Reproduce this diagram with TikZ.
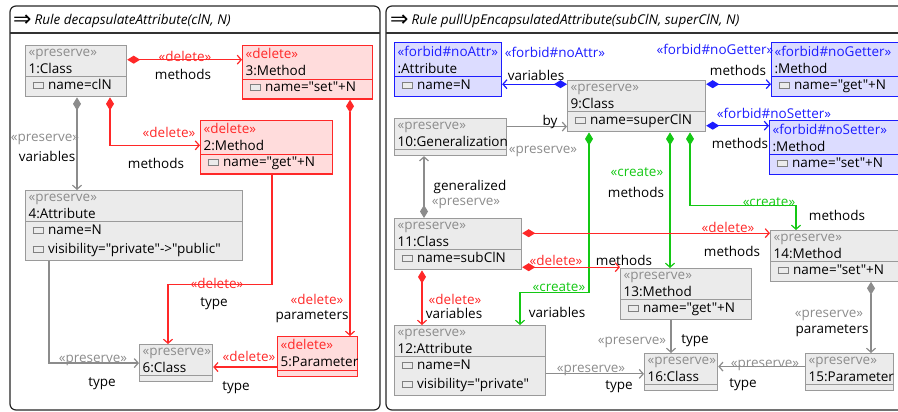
\documentclass[tikz,border=0pt]{standalone}
\usepackage{fontspec}
\setmainfont{Open Sans}[Ligatures=TeXOff]
\newfontfamily\symfont{DejaVu Sans}
\usetikzlibrary{arrows.meta, shapes.multipart}
\definecolor{pgray}{HTML}{8C8C8C}
\definecolor{boxgray}{HTML}{EBEBEB}
\definecolor{lgray}{HTML}{9A9A9A}
\definecolor{dred}{HTML}{FF2828}
\definecolor{redfill}{HTML}{FFDCDC}
\definecolor{fblue}{HTML}{1C1CFF}
\definecolor{bluefill}{HTML}{DCDCFF}
\definecolor{cgreen}{HTML}{14C814}
\newcommand{\attricon}{\raisebox{1.5pt}{\setlength{\fboxsep}{0pt}\setlength{\fboxrule}{1pt}\fcolorbox{gray}{boxgray}{\rule{0pt}{5pt}\rule{9pt}{0pt}}}}
\newcommand{\attrline}[1]{\rule[-4pt]{0pt}{12.5pt}\hspace*{4pt}\attricon\ #1}
\newcommand{\rulearrow}{\raisebox{-2pt}{\symfont\fontsize{22}{22}\selectfont ⇒}}
\tikzset{
  % rule frames
  frame/.style={draw=black!85, line width=1.2pt, rounded corners=6pt},
  titleline/.style={draw=black!80, line width=1.8pt},
  ruletitle/.style={anchor=base west, inner sep=0pt, font=\fontsize{13.5}{16}\selectfont},
  % class boxes
  umlbox/.style={rectangle split, rectangle split parts=2, draw=lgray, fill=boxgray, line width=1.2pt,
    anchor=north west, align=left, inner xsep=3pt, inner ysep=2.5pt,
    rectangle split empty part height=8pt, font=\fontsize{13.5}{17}\selectfont},
  delbox/.style={umlbox, draw=dred, fill=redfill},
  forbox/.style={umlbox, draw=fblue, fill=bluefill},
  % connectors
  con/.style={line width=1.2pt, -{Straight Barb[length=4pt,width=9pt]}},
  comp/.style={con, {Diamond[length=13pt,width=8pt]}-{Straight Barb[length=4pt,width=9pt]}},
  pres-con/.style={draw=pgray},
  del-con/.style={draw=dred},
  for-con/.style={draw=fblue},
  cre-con/.style={draw=cgreen},
  % edge labels
  lbl/.style={inner sep=0pt, font=\fontsize{13.5}{16}\selectfont},
  plbl/.style={lbl, text=pgray},
  dlbl/.style={lbl, text=dred},
  flbl/.style={lbl, text=fblue},
  clbl/.style={lbl, text=cgreen}
}
\begin{document}
\begin{tikzpicture}[x=1pt, y=-1pt]
  \useasboundingbox (0,0) rectangle (898,412);
  % --- Frames ---
  \draw[frame] (10,6) rectangle (380,410);
  \draw[frame] (386,6) rectangle (912,410);
  \draw[titleline] (10,33) -- (380,33);
  \draw[titleline] (386,33) -- (912,33);
  \node[ruletitle] (t1) at (13,25) {\rulearrow\hspace{3pt}\textit{Rule decapsulateAttribute(clN, N)}};
  \node[ruletitle] (t2) at (390,25) {\rulearrow\hspace{3pt}\textit{Rule pullUpEncapsulatedAttribute(subClN, superClN, N)}};

  % --- Left rule: boxes ---
  \node[umlbox, text width=95pt] (c1) at (25,45)
    {{\color{pgray}«preserve»}\\1:Class \nodepart{two}\attrline{name=clN}};
  \node[delbox, text width=124pt] (c3) at (242,45)
    {{\color{dred}«delete»}\\3:Method \nodepart{two}\attrline{name="set"+N}};
  \node[delbox, text width=126pt] (c2) at (200,120)
    {{\color{dred}«delete»}\\2:Method \nodepart{two}\attrline{name="get"+N}};
  \node[umlbox, text width=211pt] (c4) at (25,190)
    {{\color{pgray}«preserve»}\\4:Attribute \nodepart{two}\attrline{name=N}\\[2pt]\attrline{visibility="private"->"public"}};
  \node[umlbox, text width=67pt] (c6) at (139,344)
    {{\color{pgray}«preserve»}\\6:Class \nodepart{two}};
  \node[delbox, text width=74pt] (c5) at (277,336)
    {{\color{dred}«delete»}\\5:Parameter \nodepart{two}};

  % --- Left rule: connectors ---
  \draw[comp, del-con] ([yshift=11.5pt]c1.east) -- ([yshift=11.5pt]c1.east -| c3.west);
  \draw[comp, del-con] ([xshift=85pt]c1.south west) |- ([yshift=2pt]c2.west);
  \draw[comp, pres-con] ([xshift=52pt]c1.south west) -- ([xshift=52pt]c4.north west);
  \draw[comp, del-con] ([xshift=108pt]c3.south west) -- ([xshift=108pt]c3.south west |- c5.north);
  \draw[con, del-con] ([xshift=72pt]c2.south west) -- ++(0,110) -| ([xshift=29pt]c6.north west);
  \draw[con, pres-con] ([xshift=24pt]c4.south west) |- (c6.west);
  \draw[con, del-con] ([yshift=-10.5pt]c5.west) -- ([yshift=-10.5pt]c5.west -| c6.east);

  % --- Left rule: labels ---
  \node[dlbl] (l13s) at (185,56) {«delete»};
  \node[lbl] (l13r) at (183,74) {methods};
  \node[dlbl] (l12s) at (169,132) {«delete»};
  \node[lbl] (l12r) at (156,163) {methods};
  \node[plbl] (l14s) at (45,139) {«preserve»};
  \node[lbl] (l14r) at (47,156) {variables};
  \node[dlbl] (l35s) at (317,299) {«delete»};
  \node[lbl] (l35r) at (312,317) {parameters};
  \node[dlbl] (l26s) at (217,283) {«delete»};
  \node[lbl] (l26r) at (214,304) {type};
  \node[plbl] (l46s) at (93,360) {«preserve»};
  \node[lbl] (l46r) at (102,384) {type};
  \node[dlbl] (l56s) at (249,356) {«delete»};
  \node[lbl] (l56r) at (236,388) {type};

  % --- Right rule: boxes ---
  \node[forbox, text width=101pt] (fa) at (394,42)
    {{\color{fblue}«forbid\#noAttr»}\\:Attribute \nodepart{two}\attrline{name=N}};
  \node[umlbox, text width=132pt] (c9) at (567,80)
    {{\color{pgray}«preserve»}\\9:Class \nodepart{two}\attrline{name=superClN}};
  \node[forbox, text width=124pt] (fg) at (771,42)
    {{\color{fblue}«forbid\#noGetter»}\\:Method \nodepart{two}\attrline{name="get"+N}};
  \node[forbox, text width=124pt] (fs) at (769,120)
    {{\color{fblue}«forbid\#noSetter»}\\:Method \nodepart{two}\attrline{name="set"+N}};
  \node[umlbox, text width=106pt] (c10) at (394,118)
    {{\color{pgray}«preserve»}\\10:Generalization \nodepart{two}};
  \node[umlbox, text width=121pt] (c11) at (394,218)
    {{\color{pgray}«preserve»}\\11:Class \nodepart{two}\attrline{name=subClN}};
  \node[umlbox, text width=125pt] (c13) at (620,268)
    {{\color{pgray}«preserve»}\\13:Method \nodepart{two}\attrline{name="get"+N}};
  \node[umlbox, text width=122pt] (c14) at (770,230)
    {{\color{pgray}«preserve»}\\14:Method \nodepart{two}\attrline{name="set"+N}};
  \node[umlbox, text width=145pt] (c12) at (394,325)
    {{\color{pgray}«preserve»}\\12:Attribute \nodepart{two}\attrline{name=N}\\[2pt]\attrline{visibility="private"}};
  \node[umlbox, text width=67pt] (c16) at (644,353)
    {{\color{pgray}«preserve»}\\16:Class \nodepart{two}};
  \node[umlbox, text width=82pt] (c15) at (805,353)
    {{\color{pgray}«preserve»}\\15:Parameter \nodepart{two}};

  % --- Right rule: connectors ---
  \draw[comp, for-con] ([yshift=22pt]c9.west) -- ([yshift=22pt]c9.west -| fa.east);
  \draw[comp, for-con] ([yshift=22pt]c9.east) -- ([yshift=22pt]c9.east -| fg.west);
  \draw[comp, for-con] ([yshift=-19.5pt]c9.east) -- ([yshift=-19.5pt]c9.east -| fs.west);
  \draw[con, pres-con] ([yshift=10.5pt]c10.east) -- ([yshift=10.5pt]c10.east -| c9.west);
  \draw[comp, pres-con] ([xshift=30pt]c11.north west) -- ([xshift=30pt]c10.south west);
  \draw[comp, cre-con] ([xshift=22pt]c9.south west) -- ++(0,160) -| ([xshift=126pt]c12.north west);
  \draw[comp, cre-con] ([xshift=103pt]c9.south west) -- ([xshift=103pt]c9.south west |- c13.north);
  \draw[comp, cre-con] ([xshift=123pt]c9.south west) -- ++(0,73) -| ([xshift=26pt]c14.north west);
  \draw[comp, del-con] ([yshift=11pt]c11.east) -- ([yshift=11pt]c11.east -| c14.west);
  \draw[comp, del-con] ([yshift=-23pt]c11.east) -- ([yshift=-23pt]c11.east -| c13.west);
  \draw[comp, del-con] ([xshift=28pt]c11.south west) -- ([xshift=28pt]c12.north west);
  \draw[con, pres-con] ([yshift=-13.5pt]c12.east) -- ([yshift=-13.5pt]c12.east -| c16.west);
  \draw[con, pres-con] ([xshift=51pt]c13.south west) -- ([xshift=51pt]c13.south west |- c16.north);
  \draw[con, pres-con] ([yshift=5.5pt]c15.west) -- ([yshift=5.5pt]c15.west -| c16.east);
  \draw[comp, pres-con] ([xshift=101pt]c14.south west) -- ([xshift=101pt]c14.south west |- c15.north);

  % --- Right rule: labels ---
  \node[flbl] (lfas) at (555,52) {«forbid\#noAttr»};
  \node[lbl] (lfar) at (536,75) {variables};
  \node[flbl] (lfgs) at (715,49) {«forbid\#noGetter»};
  \node[lbl] (lfgr) at (738,70) {methods};
  \node[flbl] (lfss) at (774,113) {«forbid\#noSetter»};
  \node[lbl] (lfsr) at (740,143) {methods};
  \node[lbl] (l109r) at (550,122) {by};
  \node[plbl] (l109s) at (543,151) {«preserve»};
  \node[lbl] (l1110r) at (470,187) {generalized};
  \node[plbl] (l1110s) at (466,203) {«preserve»};
  \node[clbl] (l913s) at (637,172) {«create»};
  \node[lbl] (l913r) at (636,192) {methods};
  \node[clbl] (l914s) at (769,202) {«create»};
  \node[lbl] (l914r) at (837,215) {methods};
  \node[dlbl] (l1114s) at (728,227) {«delete»};
  \node[lbl] (l1114r) at (732,251) {methods};
  \node[dlbl] (l1113s) at (556,260) {«delete»};
  \node[lbl] (l1113r) at (624,260) {methods};
  \node[clbl] (l912s) at (559,287) {«create»};
  \node[lbl] (l912r) at (557,312) {variables};
  \node[dlbl] (l1112s) at (455,299) {«delete»};
  \node[lbl] (l1112r) at (454,313) {variables};
  \node[plbl] (l1216s) at (591,370) {«preserve»};
  \node[lbl] (l1216r) at (619,387) {type};
  \node[plbl] (l1316s) at (632,342) {«preserve»};
  \node[lbl] (l1316r) at (695,341) {type};
  \node[plbl] (l1516s) at (765,365) {«preserve»};
  \node[lbl] (l1516r) at (743,385) {type};
  \node[plbl] (l1415s) at (829,315) {«preserve»};
  \node[lbl] (l1415r) at (832,331) {parameters};
\end{tikzpicture}
\end{document}
